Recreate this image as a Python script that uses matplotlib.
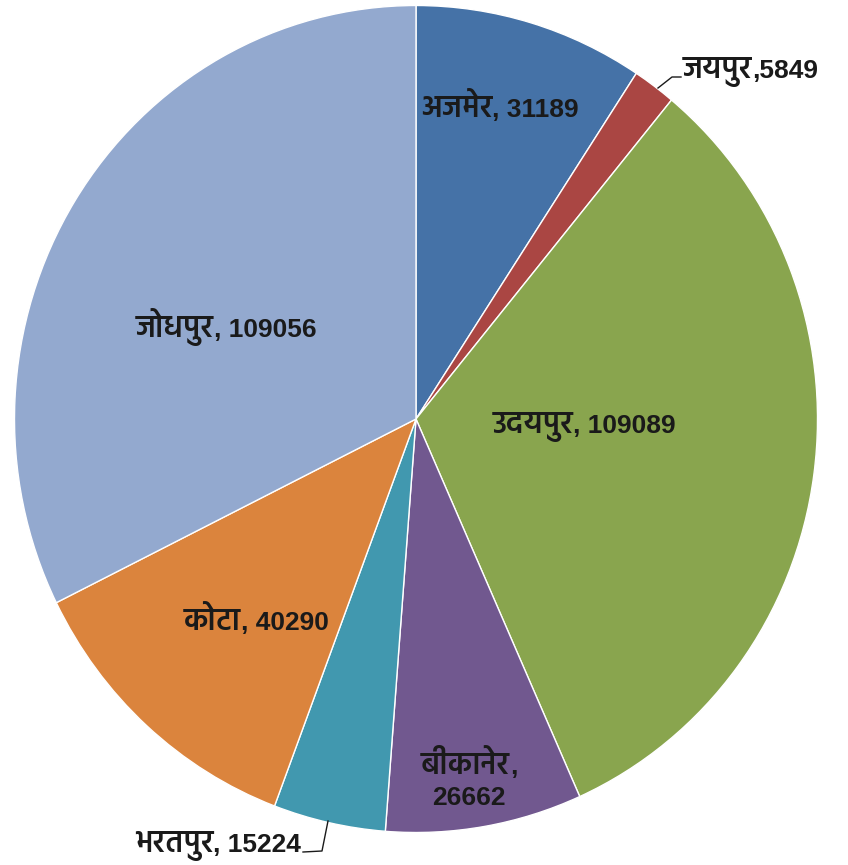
import matplotlib
matplotlib.use('Agg')
import matplotlib.pyplot as plt
from matplotlib.lines import Line2D

districts = ['अजमेर', 'जयपुर', 'उदयपुर', 'बीकानेर', 'भरतपुर', 'कोटा', 'जोधपुर']
counts = [31189, 5849, 109089, 26662, 15224, 40290, 109056]
colors = ['#4572A7', '#AA4643', '#89A54E', '#71588F', '#4198AF', '#DB843D', '#93A9CF']

W, H = 848, 865
# pie centre and radii in pixels (slightly taller than wide)
cx, cy = 416, 419
rx, ry = 401.5, 413.5

# label anchor (x, baseline y) in pixels from top-left, plus alignment
label_pos = [(500, 117, 'center'), (683, 78, 'left'), (584, 433, 'center'),
             (469, 805, 'center'), (301, 852, 'right'), (256, 630, 'center'),
             (226, 337, 'center')]

DEV = dict(family=['Hind', 'FreeSans'], fontsize=22, fontweight='semibold', color='#1a1a1a')
NUM = dict(family=['Liberation Sans'], fontsize=19, fontweight='bold', color='#1a1a1a')

fig = plt.figure(figsize=(W / 100, H / 100), dpi=100)
ax = fig.add_axes([0, 0, 1, 1])
ax.pie(counts, colors=colors, startangle=90, counterclock=False,
       wedgeprops=dict(edgecolor='white', linewidth=1))
ax.set_aspect('auto')
ax.set_xlim(-cx / rx, (W - cx) / rx)
ax.set_ylim(-(H - cy) / ry, cy / ry)
ax.axis('off')

renderer = fig.canvas.get_renderer()


def fpos(x, y):
    return x / W, 1 - y / H


def width(t):
    return t.get_window_extent(renderer).width


def label(parts, x, y, ha):
    # parts: list of (string, style) drawn side by side on one baseline
    texts = [fig.text(0, 0, s, va='baseline', ha='left', **st) for s, st in parts]
    total = sum(width(t) for t in texts)
    left = {'left': x, 'center': x - total / 2, 'right': x - total}[ha]
    for t in texts:
        t.set_position(fpos(left, y))
        left += width(t)


for name, val, (x, y, ha) in zip(districts, counts, label_pos):
    if name == 'बीकानेर':
        label([(name, DEV), (',', NUM)], x, y - 31, 'center')
        label([(str(val), NUM)], x, y, 'center')
    elif name == 'जयपुर':
        label([(name, DEV), (f',{val}', NUM)], x, y, ha)
    else:
        label([(name, DEV), (f', {val}', NUM)], x, y, ha)

# leader lines for the two outside labels
for pts in ([(658, 88), (672, 77), (681, 77)], [(328, 821), (322, 851), (303, 852)]):
    xs, ys = zip(*[fpos(x, y) for x, y in pts])
    fig.add_artist(Line2D(xs, ys, color='#1a1a1a', linewidth=1, transform=fig.transFigure))

fig.savefig('out.png', dpi=100)
